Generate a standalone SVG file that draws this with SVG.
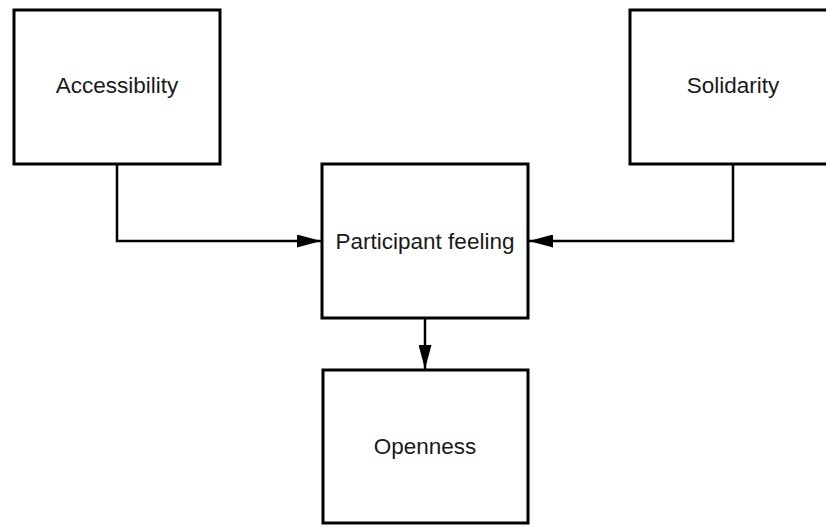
<svg xmlns="http://www.w3.org/2000/svg" width="826" height="527" viewBox="0 0 826 527">
  <defs>
    <style>
      .box { fill: #ffffff; stroke: #000000; stroke-width: 3; }
      .label { font-family: "Liberation Sans", Arial, sans-serif; font-size: 22.5px; fill: #1a1a1a; text-anchor: middle; }
      .link { fill: none; stroke: #000000; stroke-width: 2.5; }
    </style>
    <marker id="arrow" viewBox="0 0 24 13" refX="24" refY="6.5" markerWidth="24" markerHeight="13" markerUnits="userSpaceOnUse" orient="auto">
      <path d="M0,0 L24,6.5 L0,13 Z" fill="#000000"/>
    </marker>
  </defs>
  <rect width="826" height="527" fill="#ffffff"/>

  <g id="connectors">
    <path class="link" d="M117,164 V241 H321" marker-end="url(#arrow)"/>
    <path class="link" d="M733,164 V241 H529" marker-end="url(#arrow)"/>
    <path class="link" d="M425,318 V369" marker-end="url(#arrow)"/>
  </g>

  <g id="accessibility">
    <rect class="box" x="14" y="10" width="206" height="154"/>
    <text class="label" x="117" y="93">Accessibility</text>
  </g>

  <g id="solidarity">
    <rect class="box" x="630" y="10" width="206" height="154"/>
    <text class="label" x="733" y="93">Solidarity</text>
  </g>

  <g id="participant-feeling">
    <rect class="box" x="322" y="164" width="206" height="154"/>
    <text class="label" x="425" y="249">Participant feeling</text>
  </g>

  <g id="openness">
    <rect class="box" x="323" y="370" width="205" height="153"/>
    <text class="label" x="425" y="454">Openness</text>
  </g>
</svg>
